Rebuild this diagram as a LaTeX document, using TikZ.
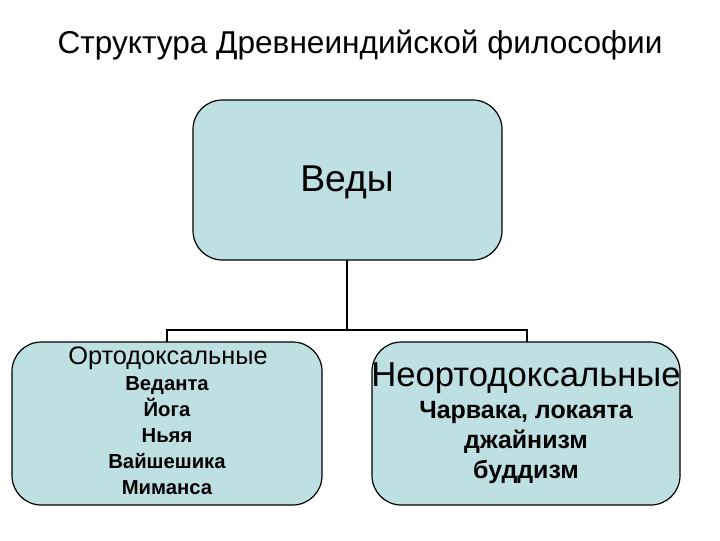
\documentclass[tikz,border=0pt]{standalone}
\usepackage{fontspec}
\setmainfont{Liberation Sans}
\definecolor{boxfill}{HTML}{BFE0E2}
\begin{document}
\begin{tikzpicture}[x=0.75pt,y=-0.75pt,
  box/.style={draw=black,line width=0.9pt,fill=boxfill,rounded corners=22pt},
  conn/.style={line width=1.5pt}]
\useasboundingbox (0,0) rectangle (720,540);
\node[font=\fontsize{23.7}{28}\selectfont] (title) at (360,45) {Структура Древнеиндийской философии};
\draw[box] (193,100) rectangle (502,260);
\node[font=\fontsize{28}{32}\selectfont] (vedy) at (347,182) {Веды};
\coordinate (tb) at (347,260);
\draw[box] (12,342) rectangle (322,505);
\draw[box] (372,342) rectangle (680,505);
\coordinate (lt) at (167,342);
\coordinate (rt) at (527,342);
\draw[conn] (tb) -- (347,330);
\draw[conn] (lt) -- (167,330) -- (527,330) -- (rt);
\node[font=\fontsize{19}{22}\selectfont] (orth) at (168,358) {Ортодоксальные};
\node[font=\bfseries\fontsize{15.2}{19.5}\selectfont,align=center,anchor=north,inner sep=0pt] (lst) at (167,376) {Веданта\\Йога\\Ньяя\\Вайшешика\\Миманса};
\node[font=\fontsize{26}{30}\selectfont] (neorth) at (526,378) {Неортодоксальные};
\node[font=\bfseries\fontsize{18.7}{22.5}\selectfont,align=center,anchor=north,inner sep=0pt] (rst) at (526,401) {Чарвака, локаята\\джайнизм\\буддизм};
\end{tikzpicture}
\end{document}
